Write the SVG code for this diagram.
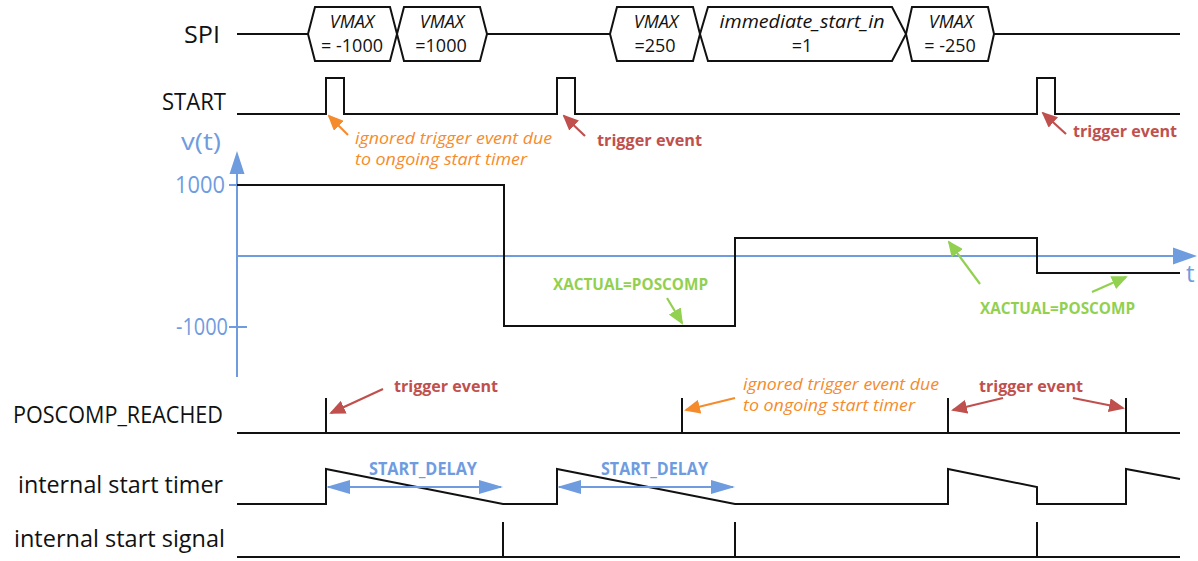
<svg xmlns="http://www.w3.org/2000/svg" width="1198" height="561" viewBox="0 0 1198 561">
<style>
text{font-family:"Open Sans","Noto Sans","Liberation Sans",sans-serif}
.lbl{font-size:23px;fill:#111;text-anchor:end}
.ax{font-size:24px;fill:#6F9CDF;text-anchor:end}
.hx{font-size:18px;fill:#111;text-anchor:middle}
.it{font-style:italic}
.wave{fill:none;stroke:#111;stroke-width:2}
.hex{fill:#fff;stroke:#111;stroke-width:2;stroke-linejoin:miter}
.axis{fill:none;stroke:#6F9CDF;stroke-width:2}
.red{fill:#C0504D;font-weight:bold;font-size:16px}
.org{fill:#F68B2C;font-style:italic;font-size:16.5px}
.grn{fill:#92D050;font-weight:bold;font-size:16px}
.blu{fill:#6F9CDF;font-weight:bold;font-size:17px}
.ar{fill:none;stroke-width:2.2}
</style>
<defs>
<marker id="hr" viewBox="0 0 16 14" refX="14" refY="7" markerWidth="16" markerHeight="14" markerUnits="userSpaceOnUse" orient="auto"><path d="M0,0 L16,7 L0,14 Z" fill="#C0504D"/></marker>
<marker id="ho" viewBox="0 0 16 14" refX="14" refY="7" markerWidth="16" markerHeight="14" markerUnits="userSpaceOnUse" orient="auto"><path d="M0,0 L16,7 L0,14 Z" fill="#F68B2C"/></marker>
<marker id="hg" viewBox="0 0 16 14" refX="14" refY="7" markerWidth="16" markerHeight="14" markerUnits="userSpaceOnUse" orient="auto"><path d="M0,0 L16,7 L0,14 Z" fill="#92D050"/></marker>
<marker id="hb" viewBox="0 0 24 14" refX="22" refY="7" markerWidth="24" markerHeight="14" markerUnits="userSpaceOnUse" orient="auto-start-reverse"><path d="M0,0 L24,7 L0,14 Z" fill="#6F9CDF"/></marker>
</defs>

<g id="labels">
<text class="lbl" x="220" y="43" textLength="36" lengthAdjust="spacingAndGlyphs">SPI</text>
<text class="lbl" x="226" y="110" textLength="64" lengthAdjust="spacingAndGlyphs">START</text>
<text class="lbl" x="223" y="423" textLength="210" lengthAdjust="spacingAndGlyphs">POSCOMP_REACHED</text>
<text class="lbl" x="223" y="493" textLength="205" lengthAdjust="spacingAndGlyphs">internal start timer</text>
<text class="lbl" x="225" y="547" textLength="211" lengthAdjust="spacingAndGlyphs">internal start signal</text>
</g>

<g id="spi">
<path class="wave" d="M237,34 H308 M487,34 H610 M994,34 H1180"/>
<path class="hex" d="M308,34 L315,7 L390,7 L397,34 L390,61 L315,61 Z"/>
<path class="hex" d="M397,34 L404,7 L480,7 L487,34 L480,61 L404,61 Z"/>
<path class="hex" d="M610,34 L617,7 L693,7 L700,34 L693,61 L617,61 Z"/>
<path class="hex" d="M700,34 L708,7 L892,7 L906,34 L892,61 L708,61 Z"/>
<path class="hex" d="M906,34 L912,7 L988,7 L994,34 L988,61 L912,61 Z"/>
<text class="hx it" x="352" y="28">VMAX</text><text class="hx" x="352" y="52">= -1000</text>
<text class="hx it" x="442" y="28">VMAX</text><text class="hx" x="441" y="52">=1000</text>
<text class="hx it" x="656" y="28">VMAX</text><text class="hx" x="655" y="52">=250</text>
<text class="hx it" x="802" y="28" textLength="165" lengthAdjust="spacingAndGlyphs">immediate_start_in</text><text class="hx" x="802" y="52">=1</text>
<text class="hx it" x="951" y="28">VMAX</text><text class="hx" x="950" y="52">= -250</text>
</g>

<g id="start">
<path class="wave" d="M237,114 H326 V78 H344 V114 H557 V78 H575 V114 H1037 V78 H1055 V114 H1180"/>
</g>

<g id="velocity">
<path class="axis" d="M237,172 V377 M237,256 H1176 M229,185 H247 M229,327 H247"/>
<path d="M237,151 L244.5,174 L229.5,174 Z M1197,256 L1173,247.5 L1173,264.5 Z" fill="#6F9CDF"/>
<text class="ax" x="221" y="150" textLength="40" lengthAdjust="spacingAndGlyphs">v(t)</text>
<text class="ax" x="225" y="193" textLength="50" lengthAdjust="spacingAndGlyphs">1000</text>
<text class="ax" x="228" y="335" textLength="52" lengthAdjust="spacingAndGlyphs">-1000</text>
<text x="1186" y="282" style="font-size:24px;fill:#6F9CDF">t</text>
<path class="wave" d="M237,185 H504 V326 H735 V238 H1037 V273 H1180"/>
</g>

<g id="poscomp">
<path class="wave" d="M237,433 H1180 M326,433 V398 M682,433 V398 M948,433 V398 M1126,433 V398"/>
</g>

<g id="timer">
<path class="wave" d="M237,504 H326 V469 L503,504 H557 V469 L735,504 H948 V469 L1037,487 V504 H1126 V469 L1180,479"/>
</g>

<g id="signal">
<path class="wave" d="M237,557 H1180 M503,557 V522 M735,557 V522 M1037,557 V522"/>
</g>

<g id="annotations">
<text class="org" x="355" y="144" textLength="197" lengthAdjust="spacingAndGlyphs">ignored trigger event due</text>
<text class="org" x="355" y="165" textLength="172" lengthAdjust="spacingAndGlyphs">to ongoing start timer</text>
<text class="red" x="597" y="146" textLength="105" lengthAdjust="spacingAndGlyphs">trigger event</text>
<text class="red" x="1073" y="137" textLength="104" lengthAdjust="spacingAndGlyphs">trigger event</text>
<text class="grn" x="553" y="290" textLength="155" lengthAdjust="spacingAndGlyphs">XACTUAL=POSCOMP</text>
<text class="grn" x="980" y="314" textLength="155" lengthAdjust="spacingAndGlyphs">XACTUAL=POSCOMP</text>
<text class="red" x="394" y="392" textLength="104" lengthAdjust="spacingAndGlyphs">trigger event</text>
<text class="org" x="743" y="390" textLength="196" lengthAdjust="spacingAndGlyphs">ignored trigger event due</text>
<text class="org" x="743" y="411" textLength="172" lengthAdjust="spacingAndGlyphs">to ongoing start timer</text>
<text class="red" x="979" y="392" textLength="104" lengthAdjust="spacingAndGlyphs">trigger event</text>
<text class="blu" x="369" y="475" textLength="108" lengthAdjust="spacingAndGlyphs">START_DELAY</text>
<text class="blu" x="601" y="475" textLength="107" lengthAdjust="spacingAndGlyphs">START_DELAY</text>
</g>

<g id="connectors">
<path class="ar" stroke="#F68B2C" marker-end="url(#ho)" d="M348,135 L329,116"/>
<path class="ar" stroke="#C0504D" marker-end="url(#hr)" d="M585,136 L564,116"/>
<path class="ar" stroke="#C0504D" marker-end="url(#hr)" d="M1066,134 L1043,113"/>
<path class="ar" stroke="#92D050" marker-end="url(#hg)" d="M667,298 L682,323"/>
<path class="ar" stroke="#92D050" marker-end="url(#hg)" d="M980,284 L949,242"/>
<path class="ar" stroke="#92D050" marker-end="url(#hg)" d="M1092,292 L1126,277"/>
<path class="ar" stroke="#C0504D" marker-end="url(#hr)" d="M383,389 L331,413"/>
<path class="ar" stroke="#F68B2C" marker-end="url(#ho)" d="M735,398 L686,410"/>
<path class="ar" stroke="#C0504D" marker-end="url(#hr)" d="M1003,398 L953,410"/>
<path class="ar" stroke="#C0504D" marker-end="url(#hr)" d="M1073,398 L1123,408"/>
<path class="ar" stroke="#6F9CDF" marker-start="url(#hb)" marker-end="url(#hb)" d="M328,487 H501"/>
<path class="ar" stroke="#6F9CDF" marker-start="url(#hb)" marker-end="url(#hb)" d="M559,487 H733"/>
</g>
</svg>
